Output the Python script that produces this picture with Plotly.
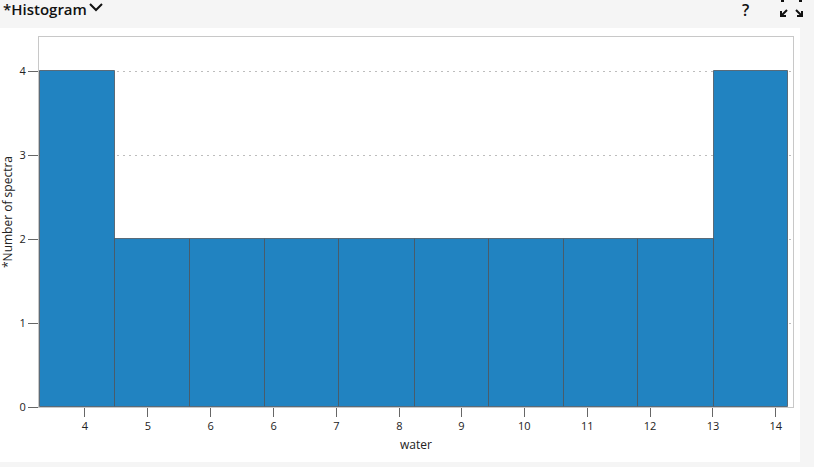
import plotly.graph_objects as go

# ---- data ----
counts = [4, 2, 2, 2, 2, 2, 2, 2, 2, 4]
bin_edges = [3.35, 4.43, 5.52, 6.60, 7.68, 8.77, 9.85, 10.93, 12.01, 13.10, 14.18]
tick_values = [4.0, 4.91, 5.82, 6.73, 7.64, 8.55, 9.45, 10.36, 11.27, 12.18, 13.09, 14.0]
tick_labels = ["4", "5", "6", "6", "7", "8", "9", "10", "11", "12", "13", "14"]
y_ticks = [0, 1, 2, 3, 4]

centers = [(a + b) / 2 for a, b in zip(bin_edges[:-1], bin_edges[1:])]
widths = [b - a for a, b in zip(bin_edges[:-1], bin_edges[1:])]

W, H = 814, 467
L, R, T, B = 39, 21, 37, 60
pw, ph = W - L - R, H - T - B


def px_x(p):
    return (p - L) / pw


def px_y(p):
    return (H - B - p) / ph


fig = go.Figure()
fig.add_trace(go.Bar(
    x=centers, y=counts, width=widths,
    marker=dict(color="#2183c1", line=dict(color="rgba(75,85,95,0.8)", width=1)),
    hoverinfo="skip",
))

font = "Open Sans, Noto Sans, sans-serif"

fig.update_layout(
    width=W, height=H,
    margin=dict(l=L, r=R, t=T, b=B),
    paper_bgcolor="#f5f5f5",
    plot_bgcolor="white",
    showlegend=False,
    bargap=0,
    font=dict(family=font, size=11, color="#222"),
    xaxis=dict(
        range=[3.335, 14.248],
        tickvals=tick_values, ticktext=tick_labels,
        ticks="outside", ticklen=9, tickcolor="#666", tickwidth=1,
        showgrid=False, zeroline=False,
        showline=True, linecolor="#c8c8c8", linewidth=1, mirror=True,
        tickfont=dict(size=11, color="#222"),
    ),
    yaxis=dict(
        range=[0, 4.405],
        tickvals=y_ticks,
        ticks="outside", ticklen=10, tickcolor="#666", tickwidth=1,
        showgrid=True, gridcolor="#bdbdbd", griddash="2px,4px", gridwidth=1,
        zeroline=False,
        showline=True, linecolor="#c8c8c8", linewidth=1, mirror=True,
        tickfont=dict(size=11, color="#222"),
    ),
    shapes=[
        # white panel
        dict(type="rect", xref="paper", yref="paper",
             x0=px_x(0), x1=px_x(800), y0=px_y(462), y1=px_y(28),
             fillcolor="white", line=dict(width=0), layer="below"),
        # chevron next to title
        dict(type="path", xref="paper", yref="paper",
             path=f"M {px_x(90)},{px_y(4)} L {px_x(96)},{px_y(10)} L {px_x(102)},{px_y(4)}",
             line=dict(color="#111", width=2)),
        # expand arrows (top right)
        dict(type="path", xref="paper", yref="paper",
             path=f"M {px_x(787)},{px_y(10)} L {px_x(781)},{px_y(16)} M {px_x(781)},{px_y(11)} L {px_x(781)},{px_y(16)} L {px_x(786)},{px_y(16)}",
             line=dict(color="#111", width=2)),
        dict(type="path", xref="paper", yref="paper",
             path=f"M {px_x(796)},{px_y(10)} L {px_x(802)},{px_y(16)} M {px_x(802)},{px_y(11)} L {px_x(802)},{px_y(16)} L {px_x(797)},{px_y(16)}",
             line=dict(color="#111", width=2)),
        dict(type="path", xref="paper", yref="paper",
             path=f"M {px_x(781)},{px_y(1)} L {px_x(784)},{px_y(1)} M {px_x(799)},{px_y(1)} L {px_x(802)},{px_y(1)}",
             line=dict(color="#111", width=2)),
    ],
    annotations=[
        dict(text="*Histogram", xref="paper", yref="paper",
             x=px_x(2), y=px_y(9), xanchor="left", yanchor="middle", borderpad=0,
             showarrow=False, font=dict(family=font, size=15, color="#111", weight=600)),
        dict(text="?", xref="paper", yref="paper",
             x=px_x(745), y=px_y(10), xanchor="center", yanchor="middle", borderpad=0,
             showarrow=False, font=dict(family=font, size=16, color="#111", weight=600)),
        dict(text="*Number of spectra", xref="paper", yref="paper",
             x=px_x(7), y=px_y(212), xanchor="center", yanchor="middle",
             textangle=-90, showarrow=False, font=dict(family=font, size=12, color="#222")),
        dict(text="water", xref="paper", yref="paper",
             x=px_x(416), y=px_y(444), xanchor="center", yanchor="middle",
             showarrow=False, font=dict(family=font, size=12, color="#222")),
    ],
)

fig.write_html(
    "out.html",
    config={"displayModeBar": False},
    post_script="document.body.style.margin='0';document.body.style.overflow='hidden';",
)
